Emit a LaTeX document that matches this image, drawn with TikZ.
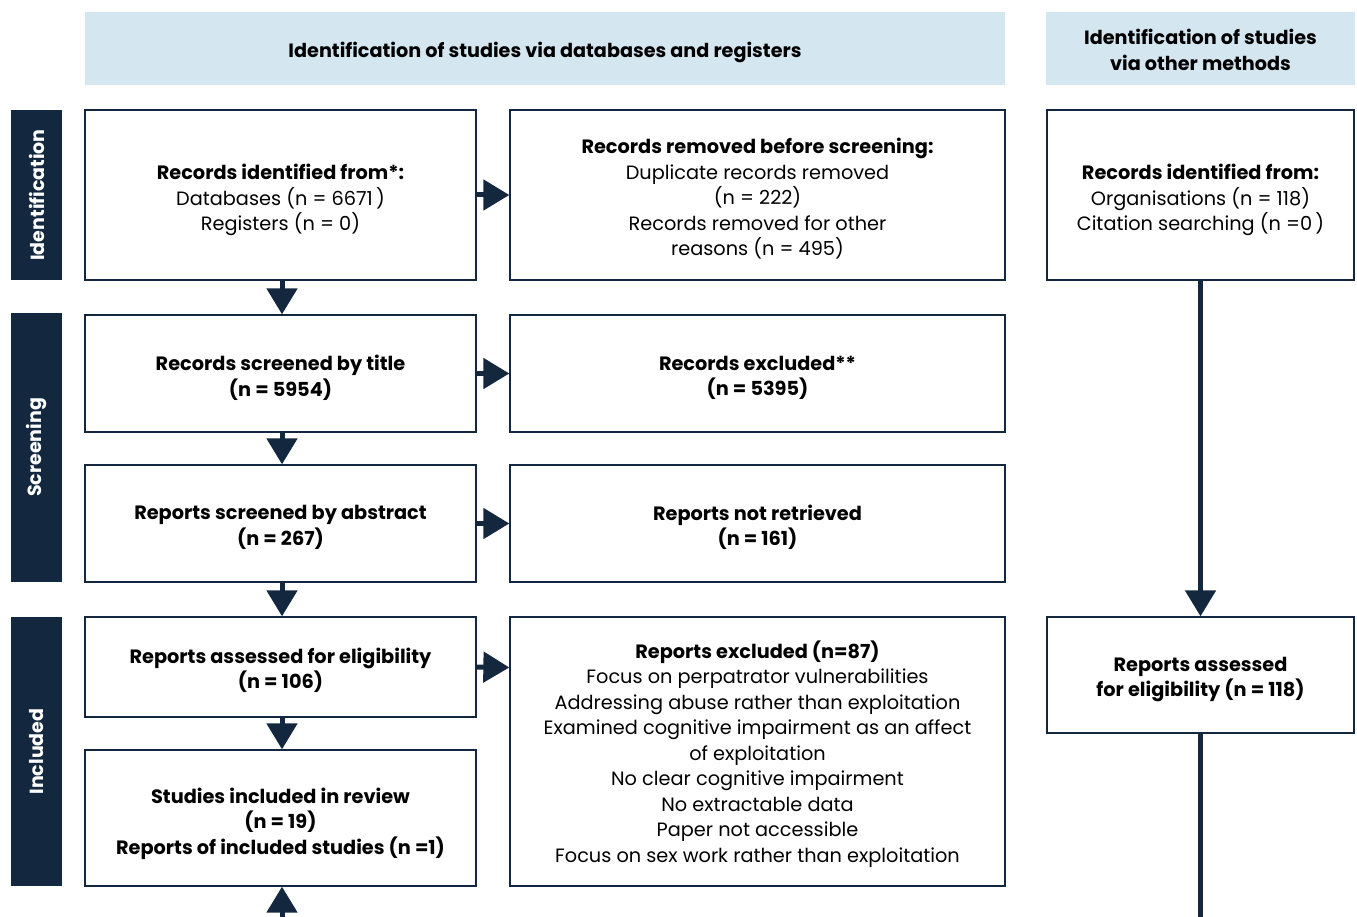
\documentclass[tikz,border=0pt]{standalone}
\usepackage{fontspec}
\setmainfont{Poppins}
\usetikzlibrary{arrows.meta}
\definecolor{navy}{HTML}{13283F}
\definecolor{lightblue}{HTML}{D4E6EF}
\tikzset{
  box/.style={draw=navy, line width=1.3pt, fill=white, inner sep=0pt},
  txt/.style={inner sep=0pt, align=center, font=\fontsize{19.3}{25.5}\selectfont},
  hdr/.style={fill=lightblue, inner sep=0pt},
  hdrtxt/.style={inner sep=0pt, align=center, font=\fontsize{19.2}{25.8}\selectfont\bfseries},
  side/.style={fill=navy, text=white, inner sep=0pt, font=\fontsize{19}{20}\selectfont\bfseries},
  flow/.style={draw=navy, line width=5pt, -{Triangle[width=30pt,length=26pt]}},
  plain/.style={draw=navy, line width=5pt}
}
\begin{document}
\begin{tikzpicture}[x=1pt,y=-1pt]
\useasboundingbox (0,0) rectangle (1357,917);
% headers
\node[hdr, minimum width=920pt, minimum height=73pt] (h1) at (545,48.5) {};
\node[hdrtxt] (h1t) at (545,52.5) {Identification of studies via databases and registers};
\node[hdr, minimum width=309pt, minimum height=73pt] (h2) at (1200.5,48.5) {};
\node[hdrtxt] (h2t) at (1200.5,49.5) {Identification of studies\\via other methods};
% side bars
\node[side, minimum width=170pt, minimum height=51pt, rotate=90] (s1) at (36.5,195) {Identification};
\node[side, minimum width=269pt, minimum height=51pt, rotate=90] (s2) at (36.5,447.5) {Screening};
\node[side, minimum width=269pt, minimum height=51pt, rotate=90] (s3) at (36.5,751.5) {Included};
% boxes
\node[box, minimum width=391pt, minimum height=170pt] (a) at (280.5,195) {};
\node[txt] (at) at ([yshift=-5pt]a.center) {\textbf{Records identified from*:}\\Databases (n = 6671\,)\\Registers (n = 0)};
\node[box, minimum width=495pt, minimum height=170pt] (b) at (757.5,195) {};
\node[txt] (bt) at ([yshift=-4pt]b.center) {\textbf{Records removed before screening:}\\Duplicate records removed\\(n = 222)\\Records removed for other\\reasons (n = 495)};
\node[box, minimum width=307pt, minimum height=170pt] (c) at (1200.5,195) {};
\node[txt] (ct) at ([yshift=-5pt]c.center) {\textbf{Records identified from:}\\Organisations (n = 118)\\Citation searching (n =0\,)};
\node[box, minimum width=391pt, minimum height=117pt] (d) at (280.5,373.5) {};
\node[txt] (dt) at ([yshift=-4.5pt]d.center) {\textbf{Records screened by title}\\\textbf{(n = 5954)}};
\node[box, minimum width=495pt, minimum height=117pt] (e) at (757.5,373.5) {};
\node[txt] (et) at ([yshift=-4.5pt]e.center) {\textbf{Records excluded**}\\\textbf{(n = 5395)}};
\node[box, minimum width=391pt, minimum height=117pt] (f) at (280.5,523.5) {};
\node[txt] (ft) at ([yshift=-4pt]f.center) {\textbf{Reports screened by abstract}\\\textbf{(n = 267)}};
\node[box, minimum width=495pt, minimum height=117pt] (g) at (757.5,523.5) {};
\node[txt] (gt) at ([yshift=-4pt]g.center) {\textbf{Reports not retrieved}\\\textbf{(n = 161)}};
\node[box, minimum width=391pt, minimum height=100pt] (hh) at (280.5,667) {};
\node[txt] (hht) at ([yshift=-3.5pt]hh.center) {\textbf{Reports assessed for eligibility}\\\textbf{(n = 106)}};
\node[box, minimum width=495pt, minimum height=269pt] (i) at (757.5,751.5) {};
\node[txt] (it) at ([yshift=-2.5pt]i.center) {\textbf{Reports excluded (n=87)}\\Focus on perpatrator vulnerabilities\\Addressing abuse rather than exploitation\\Examined cognitive impairment as an affect\\of exploitation\\No clear cognitive impairment\\No extractable data\\Paper not accessible\\Focus on sex work rather than exploitation};
\node[box, minimum width=307pt, minimum height=116pt] (j) at (1200.5,675) {};
\node[txt] (jt) at ([yshift=-4.5pt]j.center) {\textbf{Reports assessed}\\\textbf{for eligibility (n = 118)}};
\node[box, minimum width=391pt, minimum height=136pt] (k) at (280.5,818) {};
\node[txt] (kt) at ([yshift=-5.5pt]k.center) {\textbf{Studies included in review}\\\textbf{(n = 19)}\\\textbf{Reports of included studies (n =1)}};
% connectors
\coordinate (bot1) at (282,917);
\coordinate (bot2) at (1200.5,917);
\draw[flow] (a.east) -- (b.west);
\draw[flow] (d.east) -- (e.west);
\draw[flow] (f.east) -- (g.west);
\draw[flow] (hh.east) -- ([yshift=-0.5pt]hh.east -| i.west);
\draw[flow] ([xshift=1.5pt]a.south) -- ([xshift=1.5pt]d.north);
\draw[flow] ([xshift=1.5pt]d.south) -- ([xshift=1.5pt]f.north);
\draw[flow] ([xshift=1.5pt]f.south) -- ([xshift=1.5pt]hh.north);
\draw[flow] ([xshift=1.5pt]hh.south) -- ([xshift=1.5pt]k.north);
\draw[flow] (bot1) -- (bot1 |- k.south);
\draw[flow] (c.south) -- (j.north);
\draw[plain] (j.south) -- (bot2);
\end{tikzpicture}
\end{document}
